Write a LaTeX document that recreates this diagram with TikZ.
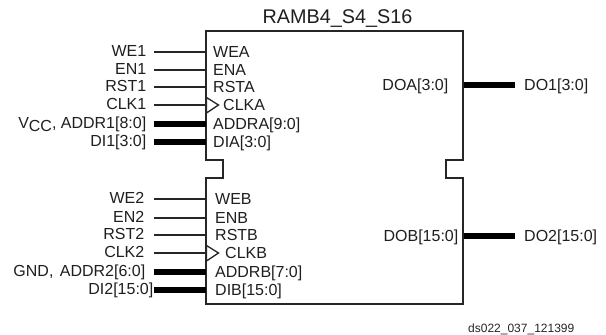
\documentclass[tikz,border=0pt]{standalone}
\usepackage{fontspec}
\setmainfont{Liberation Sans}
\tikzset{
  x=1pt,y=-1pt,
  lbl/.style={font=\fontsize{16}{18}\selectfont,text height=11.5pt,text depth=#1,inner ysep=0pt,text=black!88},
  extpin/.style 2 args={lbl=#2,anchor=east,inner xsep=#1},
  intpin/.style={lbl=1pt,anchor=west,inner xsep=#1},
  outl/.style={lbl=1pt,anchor=east,inner xsep=#1},
  outr/.style={lbl=1pt,anchor=west,inner xsep=#1},
  thin wire/.style={draw=black!85,line width=1.2pt},
  bus/.style={draw=black,line width=5.5pt},
  blockline/.style={draw=black!85,line width=1.3pt,line join=miter},
}
\begin{document}
\begin{tikzpicture}
\useasboundingbox (0,0) rectangle (606,335);
\path[fill=white] (0,0) rectangle (606,335);
% block
\draw[blockline] (206,31) -- (463,31) -- (463,160) -- (446,160) -- (446,178) -- (463,178) -- (463,304)
  -- (206,304) -- (206,178) -- (223,178) -- (223,160) -- (206,160) -- cycle;
\node[font=\fontsize{19.8}{22}\selectfont,text=black!88,inner sep=0pt,anchor=base] (title) at (337.5,23) {RAMB4\_S4\_S16};
% port A
\node[extpin={7.5pt}{3pt}] (we1) at (154,52) {WE1};
\node[extpin={7.5pt}{3pt}] (en1) at (154,70) {EN1};
\node[extpin={7.5pt}{3pt}] (rst1) at (154,87) {RST1};
\node[extpin={7.5pt}{3pt}] (clk1) at (154,105) {CLK1};
\node[extpin={7.5pt}{3pt}] (addr1) at (154,124) {V\raisebox{-3.5pt}{CC}, ADDR1[8:0]};
\node[extpin={7.5pt}{3pt}] (di1) at (154,142) {DI1[3:0]};
\node[intpin=7pt] (wea) at (206,52) {WEA};
\node[intpin=7pt] (ena) at (206,70) {ENA};
\node[intpin=7pt] (rsta) at (206,87) {RSTA};
\node[intpin=17pt] (clka) at (206,105) {CLKA};
\node[intpin=7pt] (addra) at (206,124) {ADDRA[9:0]};
\node[intpin=7pt] (dia) at (206,142) {DIA[3:0]};
% port B
\node[extpin={9.5pt}{3pt}] (we2) at (154,199) {WE2};
\node[extpin={9.5pt}{3pt}] (en2) at (154,218) {EN2};
\node[extpin={9.5pt}{3pt}] (rst2) at (154,235) {RST2};
\node[extpin={9.5pt}{3pt}] (clk2) at (154,253) {CLK2};
\node[extpin={8.5pt}{3pt}] (addr2) at (154,272) {GND,\hspace{2pt} ADDR2[6:0]};
\node[extpin={0.5pt}{3pt}] (di2) at (154,290) {DI2[15:0]};
\node[intpin=9pt] (web) at (206,199) {WEB};
\node[intpin=9pt] (enb) at (206,218) {ENB};
\node[intpin=9pt] (rstb) at (206,235) {RSTB};
\node[intpin=19pt] (clkb) at (206,253) {CLKB};
\node[intpin=9pt] (addrb) at (206,272) {ADDRB[7:0]};
\node[intpin=9pt] (dib) at (206,290) {DIB[15:0]};
% outputs
\node[outl=15pt] (doa) at (463.5,85) {DOA[3:0]};
\node[outl=5pt] (dob) at (463.5,236) {DOB[15:0]};
\node[outr=9pt] (do1) at (515,85) {DO1[3:0]};
\node[outr=9pt] (do2) at (515,236) {DO2[15:0]};
% wires
\foreach \a/\b in {we1/wea,en1/ena,rst1/rsta,clk1/clka,we2/web,en2/enb,rst2/rstb,clk2/clkb}
  \draw[thin wire] (\a.east) -- (\b.west);
\foreach \a/\b in {addr1/addra,di1/dia,addr2/addrb,di2/dib,doa/do1,dob/do2}
  \draw[bus] (\a.east) -- (\b.west);
% clock triangles
\draw[blockline,fill=white] (206.5,97.5) -- (218.5,105) -- (206.5,113) -- cycle;
\draw[blockline,fill=white] (206.5,245.5) -- (218.5,253) -- (206.5,261) -- cycle;
\node[font=\fontsize{12}{14}\selectfont,text=black!85,inner sep=0pt,anchor=base west] (foot) at (468,332.5) {ds022\_037\_121399};
\end{tikzpicture}
\end{document}
